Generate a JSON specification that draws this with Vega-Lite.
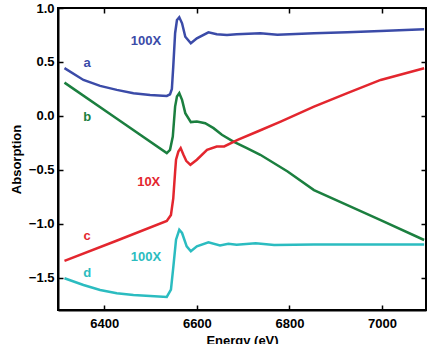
{
  "$schema": "https://vega.github.io/schema/vega-lite/v6.json",
  "width": 368,
  "height": 302,
  "autosize": {"type": "none"},
  "padding": {"left": 58, "top": 8, "right": 2, "bottom": 34},
  "background": "white",
  "config": {
    "view": {"stroke": "black", "strokeWidth": 2},
    "axis": {
      "domainColor": "black",
      "domainWidth": 2,
      "tickColor": "black",
      "tickWidth": 1.5,
      "grid": false,
      "labelFont": "Liberation Sans",
      "labelFontWeight": "bold",
      "labelFontSize": 13,
      "labelColor": "black",
      "titleFont": "Liberation Sans",
      "titleFontWeight": "bold",
      "titleFontSize": 13,
      "titleColor": "black"
    }
  },
  "datasets": {
    "spectra": [
      {"series": "a", "E": 6314, "A": 0.442},
      {"series": "a", "E": 6355, "A": 0.333},
      {"series": "a", "E": 6391, "A": 0.278},
      {"series": "a", "E": 6427, "A": 0.241},
      {"series": "a", "E": 6463, "A": 0.210},
      {"series": "a", "E": 6499, "A": 0.194},
      {"series": "a", "E": 6535, "A": 0.185},
      {"series": "a", "E": 6542, "A": 0.200},
      {"series": "a", "E": 6546, "A": 0.250},
      {"series": "a", "E": 6549, "A": 0.457},
      {"series": "a", "E": 6553, "A": 0.766},
      {"series": "a", "E": 6557, "A": 0.889},
      {"series": "a", "E": 6562, "A": 0.914},
      {"series": "a", "E": 6568, "A": 0.858},
      {"series": "a", "E": 6575, "A": 0.734},
      {"series": "a", "E": 6587, "A": 0.673},
      {"series": "a", "E": 6600, "A": 0.719},
      {"series": "a", "E": 6625, "A": 0.775},
      {"series": "a", "E": 6643, "A": 0.756},
      {"series": "a", "E": 6665, "A": 0.750},
      {"series": "a", "E": 6686, "A": 0.756},
      {"series": "a", "E": 6737, "A": 0.766},
      {"series": "a", "E": 6774, "A": 0.753},
      {"series": "a", "E": 6853, "A": 0.766},
      {"series": "a", "E": 6925, "A": 0.775},
      {"series": "a", "E": 6997, "A": 0.787},
      {"series": "a", "E": 7091, "A": 0.803},

      {"series": "b", "E": 6314, "A": 0.308},
      {"series": "b", "E": 6425, "A": -0.020},
      {"series": "b", "E": 6535, "A": -0.345},
      {"series": "b", "E": 6542, "A": -0.315},
      {"series": "b", "E": 6548, "A": -0.192},
      {"series": "b", "E": 6553, "A": 0.086},
      {"series": "b", "E": 6557, "A": 0.179},
      {"series": "b", "E": 6562, "A": 0.210},
      {"series": "b", "E": 6568, "A": 0.148},
      {"series": "b", "E": 6575, "A": 0.025},
      {"series": "b", "E": 6587, "A": -0.058},
      {"series": "b", "E": 6600, "A": -0.053},
      {"series": "b", "E": 6618, "A": -0.068},
      {"series": "b", "E": 6636, "A": -0.114},
      {"series": "b", "E": 6654, "A": -0.176},
      {"series": "b", "E": 6679, "A": -0.238},
      {"series": "b", "E": 6708, "A": -0.299},
      {"series": "b", "E": 6737, "A": -0.361},
      {"series": "b", "E": 6796, "A": -0.516},
      {"series": "b", "E": 6853, "A": -0.688},
      {"series": "b", "E": 6925, "A": -0.827},
      {"series": "b", "E": 6997, "A": -0.966},
      {"series": "b", "E": 7091, "A": -1.151},

      {"series": "c", "E": 6314, "A": -1.345},
      {"series": "c", "E": 6425, "A": -1.160},
      {"series": "c", "E": 6535, "A": -0.975},
      {"series": "c", "E": 6544, "A": -0.919},
      {"series": "c", "E": 6549, "A": -0.766},
      {"series": "c", "E": 6553, "A": -0.519},
      {"series": "c", "E": 6555, "A": -0.407},
      {"series": "c", "E": 6560, "A": -0.331},
      {"series": "c", "E": 6565, "A": -0.299},
      {"series": "c", "E": 6571, "A": -0.361},
      {"series": "c", "E": 6577, "A": -0.417},
      {"series": "c", "E": 6586, "A": -0.454},
      {"series": "c", "E": 6600, "A": -0.407},
      {"series": "c", "E": 6622, "A": -0.315},
      {"series": "c", "E": 6643, "A": -0.284},
      {"series": "c", "E": 6659, "A": -0.284},
      {"series": "c", "E": 6688, "A": -0.222},
      {"series": "c", "E": 6731, "A": -0.145},
      {"series": "c", "E": 6781, "A": -0.053},
      {"series": "c", "E": 6853, "A": 0.086},
      {"series": "c", "E": 6925, "A": 0.210},
      {"series": "c", "E": 6997, "A": 0.333},
      {"series": "c", "E": 7091, "A": 0.442},

      {"series": "d", "E": 6314, "A": -1.506},
      {"series": "d", "E": 6355, "A": -1.568},
      {"series": "d", "E": 6391, "A": -1.614},
      {"series": "d", "E": 6427, "A": -1.645},
      {"series": "d", "E": 6463, "A": -1.660},
      {"series": "d", "E": 6499, "A": -1.671},
      {"series": "d", "E": 6535, "A": -1.679},
      {"series": "d", "E": 6544, "A": -1.611},
      {"series": "d", "E": 6549, "A": -1.407},
      {"series": "d", "E": 6555, "A": -1.148},
      {"series": "d", "E": 6562, "A": -1.056},
      {"series": "d", "E": 6568, "A": -1.086},
      {"series": "d", "E": 6578, "A": -1.210},
      {"series": "d", "E": 6587, "A": -1.256},
      {"series": "d", "E": 6600, "A": -1.210},
      {"series": "d", "E": 6625, "A": -1.173},
      {"series": "d", "E": 6650, "A": -1.201},
      {"series": "d", "E": 6668, "A": -1.185},
      {"series": "d", "E": 6686, "A": -1.194},
      {"series": "d", "E": 6727, "A": -1.182},
      {"series": "d", "E": 6767, "A": -1.197},
      {"series": "d", "E": 6853, "A": -1.192},
      {"series": "d", "E": 7091, "A": -1.192}
    ],
    "letters": [
      {"series": "a", "text": "a", "E": 6363, "A": 0.49},
      {"series": "b", "text": "b", "E": 6363, "A": -0.01},
      {"series": "c", "text": "c", "E": 6363, "A": -1.11},
      {"series": "d", "text": "d", "E": 6363, "A": -1.46}
    ],
    "factors": [
      {"series": "a", "text": "100X", "E": 6490, "A": 0.69},
      {"series": "c", "text": "10X", "E": 6496, "A": -0.61},
      {"series": "d", "text": "100X", "E": 6490, "A": -1.31}
    ]
  },
  "resolve": {"axis": {"x": "independent", "y": "independent"}},
  "layer": [
    {
      "data": {"name": "spectra"},
      "mark": {"type": "line", "strokeWidth": 2.5, "clip": true},
      "encoding": {
        "x": {
          "field": "E", "type": "quantitative",
          "scale": {"domain": [6300, 7095], "nice": false, "zero": false},
          "axis": {"values": [6400, 6600, 6800, 7000], "format": "d", "title": "Energy (eV)", "ticks": false, "labelPadding": 7, "titlePadding": 4}
        },
        "y": {
          "field": "A", "type": "quantitative",
          "scale": {"domain": [-1.8, 1.0], "nice": false, "zero": false},
          "axis": {"values": [-1.5, -1.0, -0.5, 0, 0.5, 1.0], "format": ".1f", "title": "Absorption", "ticks": false, "labelPadding": 4, "titlePadding": 5}
        },
        "color": {
          "field": "series", "type": "nominal", "legend": null,
          "scale": {"domain": ["a", "b", "c", "d"], "range": ["#3b4ba8", "#1b7f3f", "#e3262e", "#2bbcc0"]}
        },
        "detail": {"field": "series"}
      }
    },
    {
      "data": {"name": "letters"},
      "mark": {"type": "text", "font": "Liberation Sans", "fontWeight": "bold", "fontSize": 13, "align": "center", "baseline": "middle"},
      "encoding": {
        "x": {
          "field": "E", "type": "quantitative",
          "axis": {"orient": "top", "values": [6400, 6600, 6800, 7000], "labels": false, "title": null, "domain": false, "tickSize": 5, "offset": -5}
        },
        "y": {
          "field": "A", "type": "quantitative",
          "axis": {"orient": "right", "values": [-1.5, -1.0, -0.5, 0, 0.5, 1.0], "labels": false, "title": null, "domain": false, "tickSize": 5, "offset": -5}
        },
        "text": {"field": "text"},
        "color": {"field": "series", "type": "nominal", "legend": null}
      }
    },
    {
      "data": {"name": "factors"},
      "mark": {"type": "text", "font": "Liberation Sans", "fontWeight": "bold", "fontSize": 13, "align": "center", "baseline": "middle"},
      "encoding": {
        "x": {
          "field": "E", "type": "quantitative",
          "axis": {"orient": "bottom", "values": [6400, 6600, 6800, 7000], "labels": false, "title": null, "domain": false, "tickSize": 5, "offset": -5}
        },
        "y": {
          "field": "A", "type": "quantitative",
          "axis": {"orient": "left", "values": [-1.5, -1.0, -0.5, 0, 0.5, 1.0], "labels": false, "title": null, "domain": false, "tickSize": 5, "offset": -5}
        },
        "text": {"field": "text"},
        "color": {"field": "series", "type": "nominal", "legend": null}
      }
    }
  ]
}
